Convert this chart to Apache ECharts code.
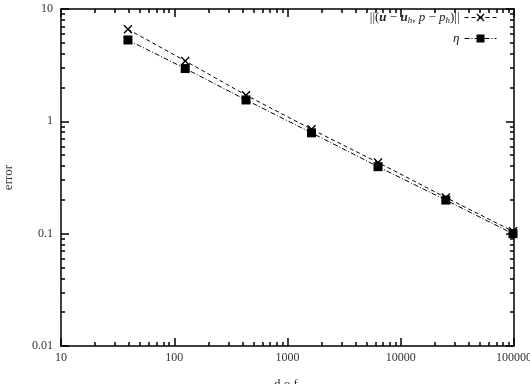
<!DOCTYPE html>
<html>
<head>
<meta charset="utf-8">
<style>html,body{margin:0;padding:0;background:#fff}#c{width:530px;height:384px}</style>
<script src="https://cdn.jsdelivr.net/npm/echarts@6/dist/echarts.min.js"></script>
</head>
<body>
<div id="c"></div>
<script>
// degrees of freedom
var dofs = [39, 125, 430, 1630, 6300, 25000, 98000];
// error norm ||(u-u_h, p-p_h)||
var errNorm = [6.6, 3.45, 1.71, 0.85, 0.43, 0.21, 0.105];
// estimator eta
var eta = [5.3, 2.95, 1.55, 0.79, 0.395, 0.199, 0.1];
// axis tick labels
var xTicks = [10, 100, 1000, 10000, 100000];
var yTicks = [0.01, 0.1, 1, 10];

var xMin = 10, xMax = 100000, yMin = 0.01, yMax = 10;
var serif = "'Liberation Serif', 'DejaVu Serif', serif";

var chart = echarts.init(document.getElementById('c'), null, { renderer: 'canvas' });

var crossPath = 'path://M0,1.1L1.1,0L10,8.9L8.9,10ZM8.9,0L10,1.1L1.1,10L0,8.9Z';
function mkAxis(extra) {
  var base = {
    type: 'log', logBase: 10,
    axisLine: { show: true, lineStyle: { color: '#000', width: 1.5 } },
    axisTick: { show: true, inside: true, length: 8, lineStyle: { color: '#000', width: 1.5 } },
    minorTick: { show: true, splitNumber: 9, length: 4, lineStyle: { color: '#000', width: 1.5 } },
    splitLine: { show: false }, minorSplitLine: { show: false }
  };
  for (var k in extra) base[k] = extra[k];
  return base;
}

var option = {
  animation: false,
  backgroundColor: '#fff',
  grid: { left: 61, right: 16, top: 9, bottom: 38, containLabel: false, outerBoundsMode: 'none' },
  legend: {
    orient: 'vertical', right: 28, top: 6, align: 'right',
    itemWidth: 32, itemHeight: 10, itemGap: 7,
    data: ['norm', 'eta'],
    itemStyle: { color: '#000' },
    lineStyle: { width: 1 },
    textStyle: { fontFamily: serif, fontSize: 13, color: '#222',
      rich: {
        n: { fontFamily: serif, fontSize: 13, color: '#222' },
        b: { fontFamily: serif, fontSize: 13, fontWeight: 'bold', fontStyle: 'italic', color: '#222' },
        i: { fontFamily: serif, fontSize: 13, fontStyle: 'italic', color: '#222' },
        s: { fontFamily: serif, fontSize: 9, fontStyle: 'italic', color: '#222', padding: [6, 0, 0, 0] }
      } },
    formatter: function (name) {
      if (name === 'norm') return '{n|||(}{b|u}{n| − }{b|u}{s|h}{n|, }{i|p}{n| − }{i|p}{s|h}{n|)||}';
      return '{i|η}';
    }
  },
  xAxis: [
    mkAxis({ min: xMin, max: xMax, position: 'bottom',
      name: 'd.o.f.', nameLocation: 'middle', nameGap: 32,
      nameTextStyle: { fontFamily: serif, fontSize: 13, color: '#333' },
      axisLabel: { fontFamily: serif, fontSize: 12, color: '#333', margin: 6,
        formatter: function (v) {
          for (var i = 0; i < xTicks.length; i++) if (Math.abs(xTicks[i] - v) / xTicks[i] < 1e-6) return String(xTicks[i]);
          return String(Math.round(v));
        } } }),
    mkAxis({ min: xMin, max: xMax, position: 'top', axisLabel: { show: false } })
  ],
  yAxis: [
    mkAxis({ min: yMin, max: yMax, position: 'left',
      name: 'error', nameLocation: 'middle', nameGap: 46, nameRotate: 90,
      nameTextStyle: { fontFamily: serif, fontSize: 13, color: '#333' },
      axisLabel: { fontFamily: serif, fontSize: 12, color: '#333', margin: 8,
        formatter: function (v) {
          for (var i = 0; i < yTicks.length; i++) if (Math.abs(yTicks[i] - v) / yTicks[i] < 1e-6) return String(yTicks[i]);
          return String(v);
        } } }),
    mkAxis({ min: yMin, max: yMax, position: 'right', axisLabel: { show: false } })
  ],
  series: [
    { name: 'norm', type: 'line', xAxisIndex: 0, yAxisIndex: 0,
      data: dofs.map(function (d, i) { return [d, errNorm[i]]; }),
      symbol: crossPath, symbolSize: 9, showAllSymbol: true,
      lineStyle: { color: '#000', width: 1, type: [4, 3] },
      itemStyle: { color: '#000' } },
    { name: 'eta', type: 'line', xAxisIndex: 0, yAxisIndex: 0,
      data: dofs.map(function (d, i) { return [d, eta[i]]; }),
      symbol: 'rect', symbolSize: 9, showAllSymbol: true,
      lineStyle: { color: '#000', width: 1, type: [5, 2, 1, 2] },
      itemStyle: { color: '#000' } }
  ]
};
chart.setOption(option);
</script>
</body>
</html>
